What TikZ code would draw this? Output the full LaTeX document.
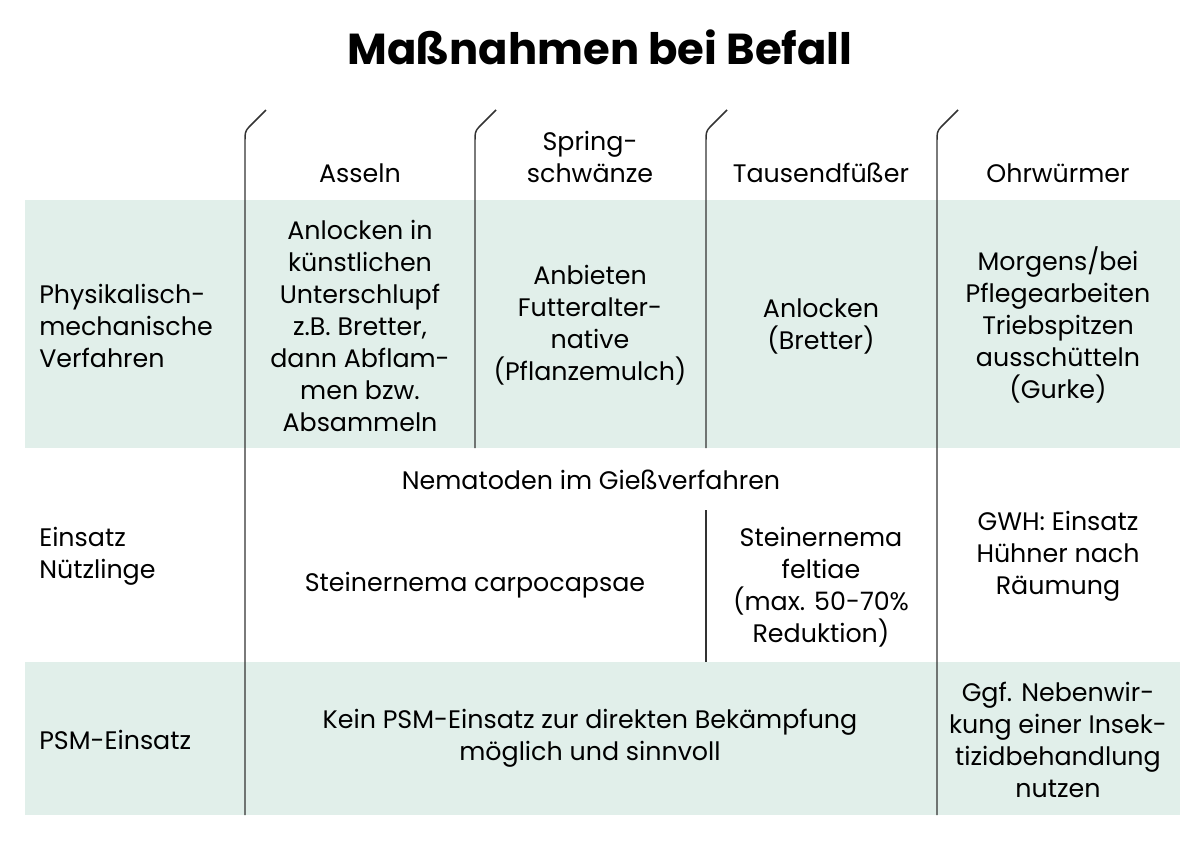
\documentclass[tikz,border=0pt]{standalone}
\usepackage{fontspec}
\setmainfont{Poppins}
\definecolor{mint}{HTML}{E1EFEA}
\definecolor{rule}{HTML}{333333}
\begin{document}
\begin{tikzpicture}[x=0.75pt,y=-0.75pt,
  txt/.style={inner sep=0pt,align=center,text=black,font=\fontsize{19}{24}\selectfont},
  lbl/.style={txt,align=left,anchor=west},
  title/.style={inner sep=0pt,font=\fontsize{32.5}{40}\selectfont\bfseries},
  sep/.style={draw=rule,line width=1.1pt}]
\useasboundingbox (0,0) rectangle (1200,843);
\fill[white] (0,0) rectangle (1200,843);
% shaded rows
\fill[mint] (25,200) rectangle (1180,448);
\fill[mint] (25,662) rectangle (1180,815);
% column rules
\draw[sep] (266,110) -- (249,127) .. controls (245,131) and (245,134) .. (245,140) -- (245,815);
\draw[sep] (496,110) -- (479,127) .. controls (475,131) and (475,134) .. (475,140) -- (475,448);
\draw[sep] (727,110) -- (710,127) .. controls (706,131) and (706,134) .. (706,140) -- (706,448);
\draw[sep] (706,510) -- (706,662);
\draw[sep] (958,110) -- (941,127) .. controls (937,131) and (937,134) .. (937,140) -- (937,815);
% title
\node[title] (t) at (600,47) {Maßnahmen bei Befall};
% header
\node[txt] (h1) at (360,173) {Asseln};
\node[txt] (h2) at (590,157) {Spring-\\schwänze};
\node[txt] (h3) at (821,173) {Tausendfüßer};
\node[txt] (h4) at (1058,173) {Ohrwürmer};
% row labels
\node[lbl] (r1) at (39,326) {Physikalisch-\\mechanische\\Verfahren};
\node[lbl] (r2) at (39,556) {Einsatz\\Nützlinge};
\node[lbl] (r3) at (39,740) {PSM-Einsatz};
% row 1
\node[txt] (a1) at (360,326) {Anlocken in\\künstlichen\\Unterschlupf\\z.B. Bretter,\\dann Abflam-\\men bzw.\\Absammeln};
\node[txt] (b1) at (590,325) {Anbieten\\Futteralter-\\native\\(Pflanzemulch)};
\node[txt] (c1) at (821,326) {Anlocken\\(Bretter)};
\node[txt] (d1) at (1058,325) {Morgens/bei\\Pflegearbeiten\\Triebspitzen\\ausschütteln\\(Gurke)};
% row 2
\node[txt] (n2) at (591,480) {Nematoden im Gießverfahren};
\node[txt] (a2) at (475,585) {Steinernema carpocapsae};
\node[txt] (c2) at (821,587) {Steinernema\\feltiae\\(max. 50-70\%\\Reduktion)};
\node[txt] (d2) at (1058,556) {GWH: Einsatz\\Hühner nach\\Räumung};
% row 3
\node[txt] (a3) at (590,738) {Kein PSM-Einsatz zur direkten Bekämpfung\\möglich und sinnvoll};
\node[txt] (d3) at (1058,740) {Ggf. Nebenwir-\\kung einer Insek-\\tizidbehandlung\\nutzen};
\end{tikzpicture}
\end{document}
